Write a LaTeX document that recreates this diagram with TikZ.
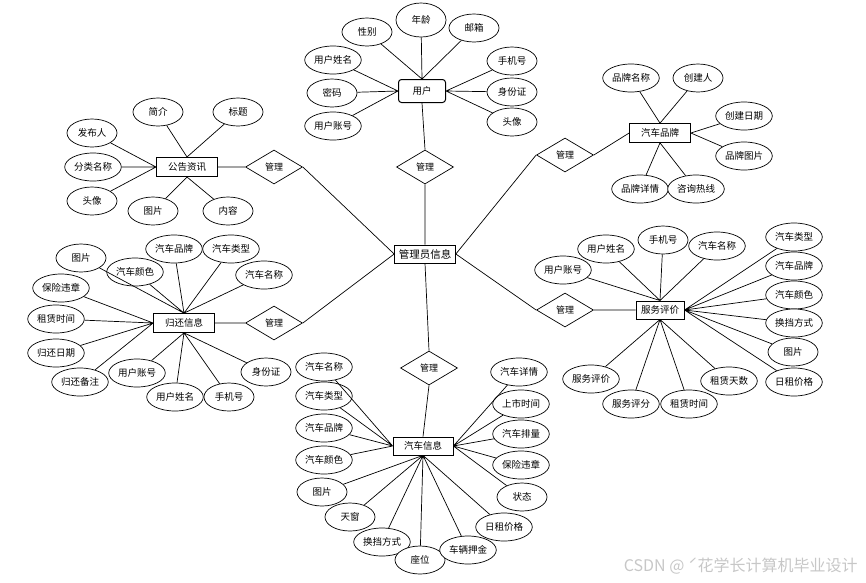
\documentclass[tikz,border=0pt]{standalone}
\usepackage{fontspec}
\setmainfont{Noto Sans CJK SC}
\usetikzlibrary{shapes.geometric}
\tikzset{
  attr/.style={draw, fill=white, ellipse, minimum width=50pt, minimum height=28pt, inner sep=1pt, font=\fontsize{9.5}{11}\selectfont},
  ent/.style={draw, fill=white, rectangle, minimum width=61pt, minimum height=19pt, inner sep=1pt, font=\fontsize{9.5}{11}\selectfont},
  rel/.style={draw, fill=white, diamond, minimum width=57pt, minimum height=34pt, inner sep=0pt, font=\fontsize{9}{10}\selectfont},
}
\begin{document}
\begin{tikzpicture}[x=1pt, y=-1pt, line width=0.7pt]
\useasboundingbox (0,0) rectangle (866,582);
% Administrador
\node[ent, font=\fontsize{10.5}{12}\selectfont, minimum height=18pt] (gly) at (425,254) {管理员信息};

% Usuario
\node[ent, rounded corners=3pt, minimum width=47pt, minimum height=23pt, line width=1pt] (yh) at (422,91) {用户};
\node[attr] (yh1) at (367,32) {性别};
\node[attr, minimum height=34pt] (yh2) at (421,20) {年龄};
\node[attr] (yh3) at (474,28) {邮箱};
\node[attr] (yh4) at (333,60) {用户姓名};
\node[attr] (yh5) at (332,93) {密码};
\node[attr] (yh6) at (333,126) {用户账号};
\node[attr] (yh7) at (512,61) {手机号};
\node[attr] (yh8) at (512,92) {身份证};
\node[attr] (yh9) at (512,122) {头像};
\draw (yh1) -- (yh.north) (yh2) -- (yh.north) (yh3) -- (yh.north);
\draw (yh4) -- (yh.west) (yh5) -- (yh.west) (yh6) -- (yh.west);
\draw (yh7) -- (yh.east) (yh8) -- (yh.east) (yh9) -- (yh.east);
\node[rel] (m1) at (425,167) {管理};
\draw (yh.south) -- (m1.north) (m1.south) -- (gly.north);

% Anuncios
\node[ent, line width=1pt] (gg) at (187,167) {公告资讯};
\node[attr] (gg1) at (158,112) {简介};
\node[attr] (gg2) at (238,112) {标题};
\node[attr] (gg3) at (92,133) {发布人};
\node[attr] (gg4) at (93,167) {分类名称};
\node[attr] (gg5) at (92,201) {头像};
\node[attr] (gg6) at (153,211) {图片};
\node[attr] (gg7) at (228,211) {内容};
\draw (gg1) -- (gg.north) (gg2) -- (gg.north);
\draw (gg3) -- (gg.west) (gg4) -- (gg.west) (gg5) -- (gg.west);
\draw (gg6) -- (gg.south) (gg7) -- (gg.south);
\node[rel] (m2) at (274,167) {管理};
\draw (gg.east) -- (m2.west) (m2.east) -- (gly.west);

% Marcas
\node[ent] (pp) at (660,133) {汽车品牌};
\node[attr] (pp1) at (631,78) {品牌名称};
\node[attr] (pp2) at (698,78) {创建人};
\node[attr] (pp3) at (744,116) {创建日期};
\node[attr] (pp4) at (744,156) {品牌图片};
\node[attr] (pp5) at (640,189) {品牌详情};
\node[attr] (pp6) at (696,189) {咨询热线};
\draw (pp1) -- (pp.north) (pp2) -- (pp.north);
\draw (pp3) -- (pp.east) (pp4) -- (pp.east);
\draw (pp5) -- (pp.south) (pp6) -- (pp.south);
\node[rel] (m3) at (565,155) {管理};
\draw (gly.east) -- (m3.west) (m3.east) -- (pp.west);

% Devoluciones
\node[ent] (gh) at (184,323) {归还信息};
\node[attr] (gh1) at (81,258) {图片};
\node[attr] (gh2) at (135,272) {汽车颜色};
\node[attr] (gh3) at (174,249) {汽车品牌};
\node[attr] (gh4) at (231,249) {汽车类型};
\node[attr] (gh5) at (264,275) {汽车名称};
\node[attr] (gh6) at (61,288) {保险违章};
\node[attr] (gh7) at (56,319) {租赁时间};
\node[attr] (gh8) at (56,353) {归还日期};
\node[attr] (gh9) at (80,382) {归还备注};
\node[attr] (gh10) at (137,373) {用户账号};
\node[attr] (gh11) at (175,397) {用户姓名};
\node[attr] (gh12) at (229,397) {手机号};
\node[attr] (gh13) at (266,372) {身份证};
\draw (gh1) -- (gh.north) (gh2) -- (gh.north) (gh3) -- (gh.north) (gh4) -- (gh.north) (gh5) -- (gh.north);
\draw (gh6) -- (gh.west) (gh7) -- (gh.west) (gh8) -- (gh.west) (gh9) -- (gh.west);
\draw (gh10) -- (gh.south) (gh11) -- (gh.south) (gh12) -- (gh.south) (gh13) -- (gh.south);
\node[rel] (m4) at (274,323) {管理};
\draw (gh.east) -- (m4.west) (m4.east) -- (gly.west);

% Valoraciones
\node[ent, line width=1pt, minimum width=48pt, minimum height=18pt] (fw) at (660,310) {服务评价};
\node[attr] (fw1) at (563,270) {用户账号};
\node[attr] (fw2) at (606,249) {用户姓名};
\node[attr] (fw3) at (663,240) {手机号};
\node[attr] (fw4) at (717,246) {汽车名称};
\node[attr] (fw5) at (794,237) {汽车类型};
\node[attr] (fw6) at (794,266) {汽车品牌};
\node[attr] (fw7) at (794,295) {汽车颜色};
\node[attr] (fw8) at (794,323) {换挡方式};
\node[attr] (fw9) at (793,352) {图片};
\node[attr] (fw10) at (794,382) {日租价格};
\node[attr] (fw11) at (591,379) {服务评价};
\node[attr] (fw12) at (631,404) {服务评分};
\node[attr] (fw13) at (689,404) {租赁时间};
\node[attr] (fw14) at (729,381) {租赁天数};
\draw (fw1) -- (fw.north) (fw2) -- (fw.north) (fw3) -- (fw.north) (fw4) -- (fw.north);
\draw (fw5) -- (fw.east) (fw6) -- (fw.east) (fw7) -- (fw.east) (fw8) -- (fw.east) (fw9) -- (fw.east) (fw10) -- (fw.east);
\draw (fw11) -- (fw.south) (fw12) -- (fw.south) (fw13) -- (fw.south) (fw14) -- (fw.south);
\node[rel] (m5) at (565,310) {管理};
\draw (gly.east) -- (m5.west) (m5.east) -- (fw.west);

% Vehiculos
\node[ent, minimum width=60pt, minimum height=18pt] (qc) at (423,446) {汽车信息};
\node[attr] (qc1) at (324,367) {汽车名称};
\node[attr] (qc2) at (324,396) {汽车类型};
\node[attr] (qc3) at (324,428) {汽车品牌};
\node[attr] (qc4) at (324,460) {汽车颜色};
\node[attr] (qc5) at (322,492) {图片};
\node[attr] (qc6) at (350,517) {天窗};
\node[attr] (qc7) at (382,542) {换挡方式};
\node[attr] (qc8) at (420,560) {座位};
\node[attr] (qc9) at (468,550) {车辆押金};
\node[attr] (qc10) at (504,527) {日租价格};
\node[attr] (qc11) at (522,497) {状态};
\node[attr] (qc12) at (519,372) {汽车详情};
\node[attr] (qc13) at (521,404) {上市时间};
\node[attr] (qc14) at (521,434) {汽车排量};
\node[attr] (qc15) at (521,465) {保险违章};
\draw (qc1) -- (qc.west) (qc2) -- (qc.west) (qc3) -- (qc.west) (qc4) -- (qc.west);
\draw (qc5) -- (qc.south) (qc6) -- (qc.south) (qc7) -- (qc.south) (qc8) -- (qc.south) (qc9) -- (qc.south) (qc10) -- (qc.south);
\draw (qc11) -- (qc.east) (qc12) -- (qc.east) (qc13) -- (qc.east) (qc14) -- (qc.east) (qc15) -- (qc.east);
\node[rel] (m6) at (429,368) {管理};
\draw (gly.south) -- (m6.north) (m6.south) -- (qc.north);

% Marca de agua
\node[text=black!22, font=\fontsize{16}{18}\selectfont, anchor=east, inner sep=0pt] (wm) at (858,566) {CSDN @ ˊ花学长计算机毕业设计};
\end{tikzpicture}
\end{document}
